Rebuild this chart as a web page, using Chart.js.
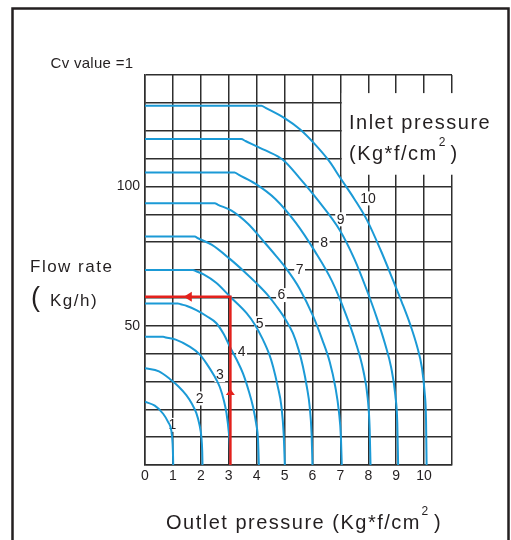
<!DOCTYPE html>
<html>
<head>
<meta charset="utf-8">
<script src="https://cdn.jsdelivr.net/npm/chart.js@4.4.1/dist/chart.umd.min.js"></script>
<style>
  html, body { margin: 0; padding: 0; background: #fff; }
  canvas { display: block; }
</style>
</head>
<body>
<canvas id="flow" width="511" height="540"></canvas>
<script>
const INK = '#231f20';
const GRID = '#2e2e2e';
const BLUE = '#1b9ad6';
const RED = '#e3211c';
const FONT = "'Liberation Sans', Arial, sans-serif";

// outlet pressure ticks (kgf/cm2) and the labelled flow ticks (kg/h)
const outletTicks = [0, 1, 2, 3, 4, 5, 6, 7, 8, 9, 10];
const flowTickLabels = [50, 100];

// one curve per inlet pressure, points are [outlet pressure, flow]
const inlet1 = [[0, 22.7], [0.35, 21.3], [0.65, 18.4], [0.83, 15.4], [0.94, 12.5], [0.99, 7.5], [1.005, 3], [1.01, 0]];
const inlet2 = [[0, 34.7], [0.5, 33.6], [0.9, 30.8], [1.2, 28.2], [1.48, 25.1], [1.68, 22], [1.84, 18.6], [1.95, 14.5], [2.02, 10], [2.05, 5], [2.06, 0]];
const inlet3 = [[0, 46], [0.65, 46], [0.75, 45.8], [1.1, 45], [1.6, 42.5], [1.95, 39.8], [2.2, 36.5], [2.48, 32], [2.68, 28], [2.83, 23], [2.92, 18.6], [3.0, 12], [3.04, 6], [3.05, 0]];
const inlet4 = [[0, 58], [1.18, 58], [1.28, 57.7], [1.5, 57.1], [1.84, 55.6], [2.2, 53.5], [2.56, 50.9], [2.82, 47], [3.04, 42.5], [3.3, 37.5], [3.51, 32.9], [3.72, 26.5], [3.87, 20.9], [3.98, 15], [4.05, 9], [4.08, 0]];
const inlet5 = [[0, 70], [1.72, 70], [1.82, 69.6], [2.1, 68.4], [2.55, 65.4], [3.05, 60.4], [3.64, 54.5], [3.95, 50.2], [4.23, 44.9], [4.45, 39.8], [4.59, 35.3], [4.75, 28.5], [4.89, 20.9], [4.97, 11], [5.01, 0]];
const inlet6 = [[0, 82], [1.78, 82], [1.9, 81.4], [2.4, 79], [3.04, 74], [3.55, 69.5], [3.99, 65.3], [4.4, 61], [4.71, 57], [5.05, 52], [5.3, 47.3], [5.5, 41.5], [5.66, 35.3], [5.8, 28], [5.9, 21], [5.97, 11], [6.0, 0]];
const inlet7 = [[0, 94], [2.5, 94], [2.62, 93.4], [3.1, 91.3], [3.7, 86.5], [4.23, 80.5], [4.7, 75], [5.07, 70.4], [5.54, 63.3], [6.02, 53.5], [6.35, 45], [6.62, 37], [6.82, 28], [6.95, 19], [7.02, 10], [7.05, 0]];
const inlet8 = [[0, 105], [3.21, 105], [3.35, 104.2], [3.95, 101], [4.67, 95.5], [5.4, 87], [6.1, 76.5], [6.7, 66], [7.2, 54], [7.55, 44], [7.82, 34], [7.98, 24], [8.05, 13], [8.08, 0]];
const inlet9 = [[0, 117], [3.45, 117], [3.6, 116.3], [4.3, 113], [4.95, 109.5], [5.54, 103], [6.2, 95], [6.98, 84.3], [7.5, 74], [7.94, 63], [8.3, 53], [8.6, 43.5], [8.82, 35], [8.97, 25], [9.04, 15], [9.07, 0]];
const inlet10 = [[0, 129], [4.17, 129], [4.32, 128.2], [5.0, 124.5], [5.55, 120.5], [6.1, 115], [6.62, 108.8], [7.0, 103], [7.5, 95.5], [7.95, 88], [8.45, 77], [8.9, 66], [9.2, 58.5], [9.5, 50.5], [9.75, 42.5], [9.92, 35], [10.02, 26], [10.07, 16], [10.09, 0]];

const inletCurves = [inlet1, inlet2, inlet3, inlet4, inlet5, inlet6, inlet7, inlet8, inlet9, inlet10];
const inletNames = ['1', '2', '3', '4', '5', '6', '7', '8', '9', '10'];
// where each curve number is written, [outlet, flow]
const inletLabelAt = [[0.98, 14.4], [1.96, 23.9], [2.68, 32.3], [3.46, 40.7], [4.11, 50.9], [4.89, 61], [5.54, 70], [6.42, 79.9], [7.01, 88.2], [7.99, 95.7]];

// worked example: outlet 3 gives about 60 kg/h on the inlet 5 curve
const examplePath = [[3.06, 0], [3.06, 60.4], [0, 60.4]];

function drawText(ctx, str, x, y, size, spacing = 0, align = 'left') {
  ctx.font = `${size}px ${FONT}`;
  ctx.letterSpacing = spacing + 'px';
  ctx.textAlign = align;
  ctx.textBaseline = 'alphabetic';
  ctx.fillText(str, x, y);
  return ctx.measureText(str).width;
}

const decorPlugin = {
  id: 'decor',
  beforeDraw(chart) {
    const { ctx, width, height } = chart;
    ctx.save();
    ctx.fillStyle = '#fff';
    ctx.fillRect(0, 0, width, height);
    ctx.restore();
  },
  beforeDatasetsDraw(chart) {
    const { ctx, scales: { x, y } } = chart;
    ctx.save();
    // blank corner for the inlet pressure caption
    const left = x.getPixelForValue(7.05), top = y.getPixelForValue(133.5);
    const right = x.getPixelForValue(11.1), bottom = y.getPixelForValue(104.2);
    ctx.fillStyle = '#fff';
    ctx.fillRect(left, top, right - left, bottom - top);

    // curve numbers
    ctx.font = `14px ${FONT}`;
    inletNames.forEach((name, i) => {
      const px = x.getPixelForValue(inletLabelAt[i][0]);
      const py = y.getPixelForValue(inletLabelAt[i][1]);
      const w = ctx.measureText(name).width;
      ctx.fillStyle = '#fff';
      ctx.fillRect(px - w / 2 - 1.5, py - 7, w + 3, 14);
      ctx.fillStyle = INK;
      ctx.textAlign = 'center';
      ctx.textBaseline = 'middle';
      ctx.fillText(name, px, py + 0.5);
    });
    ctx.restore();
  },
  afterDatasetsDraw(chart) {
    const { ctx, scales: { x, y } } = chart;
    ctx.save();
    ctx.fillStyle = RED;
    // arrow pointing up on the vertical leg
    const ax = x.getPixelForValue(examplePath[0][0]);
    const ay = y.getPixelForValue(27.3);
    ctx.beginPath();
    ctx.moveTo(ax, ay);
    ctx.lineTo(ax - 4.5, ay + 6);
    ctx.lineTo(ax + 4.5, ay + 6);
    ctx.closePath();
    ctx.fill();
    // arrow pointing left on the horizontal leg
    const bx = x.getPixelForValue(1.39);
    const by = y.getPixelForValue(examplePath[2][1]);
    ctx.beginPath();
    ctx.moveTo(bx, by);
    ctx.lineTo(bx + 8, by - 5);
    ctx.lineTo(bx + 8, by + 5);
    ctx.closePath();
    ctx.fill();
    ctx.restore();
  },
  afterDraw(chart) {
    const { ctx } = chart;
    ctx.save();
    ctx.fillStyle = INK;
    drawText(ctx, 'Cv value =1', 50.5, 67.5, 15, 0.3);

    drawText(ctx, 'Inlet pressure', 349, 128.5, 20, 1.5);
    let w = drawText(ctx, '(Kg*f/cm', 349, 159.5, 20, 1.5);
    drawText(ctx, '2', 349 + w + 1, 146, 12, 0);
    drawText(ctx, ')', 450.5, 159.5, 20, 0);

    drawText(ctx, 'Flow rate', 30, 272, 17, 1.5);
    drawText(ctx, '(', 31, 306, 27, 0);
    drawText(ctx, 'Kg/h)', 50, 306, 17, 1.5);

    w = drawText(ctx, 'Outlet pressure (Kg*f/cm', 166, 528.5, 20, 1.5);
    drawText(ctx, '2', 166 + w + 0.5, 515, 12, 0);
    drawText(ctx, ')', 434, 528.5, 20, 0);

    // outer frame
    ctx.letterSpacing = '0px';
    ctx.strokeStyle = INK;
    ctx.lineWidth = 2.5;
    ctx.strokeRect(12.5, 8.5, 496, 545);
    ctx.restore();
  }
};

const datasets = inletCurves.map((curve, i) => ({
  label: 'Inlet ' + inletNames[i],
  data: curve.map(([ox, fy]) => ({ x: ox, y: fy })),
  showLine: true,
  borderColor: BLUE,
  borderWidth: 2,
  pointRadius: 0,
  fill: false,
  cubicInterpolationMode: 'monotone',
}));
datasets.unshift({
  label: 'Example',
  data: examplePath.map(([ox, fy]) => ({ x: ox, y: fy })),
  showLine: true,
  borderColor: RED,
  borderWidth: 2.5,
  pointRadius: 0,
  tension: 0,
  order: -1,
});

new Chart(document.getElementById('flow'), {
  type: 'scatter',
  plugins: [decorPlugin],
  data: { datasets },
  options: {
    responsive: false,
    animation: false,
    events: [],
    layout: { padding: { top: 75, right: 59, left: 0, bottom: 0 } },
    plugins: { legend: { display: false }, tooltip: { enabled: false } },
    scales: {
      x: {
        type: 'linear', min: 0, max: 11,
        ticks: {
          stepSize: 1, autoSkip: false, maxRotation: 0, padding: 3,
          color: INK, font: { family: FONT, size: 14 },
          callback: v => outletTicks.includes(v) ? String(v) : '',
        },
        grid: { color: GRID, lineWidth: 1.5, drawTicks: false },
        border: { color: GRID, width: 1.5 },
        afterFit: s => { s.height = 75; },
      },
      y: {
        type: 'linear', min: 0, max: 140,
        ticks: {
          stepSize: 10, autoSkip: false, padding: 5,
          color: INK, font: { family: FONT, size: 14 },
          callback: v => flowTickLabels.includes(v) ? String(v) : '',
        },
        grid: { color: GRID, lineWidth: 1.5, drawTicks: false },
        border: { color: GRID, width: 1.5 },
        afterFit: s => { s.width = 145; },
      },
    },
  },
});
</script>
</body>
</html>
